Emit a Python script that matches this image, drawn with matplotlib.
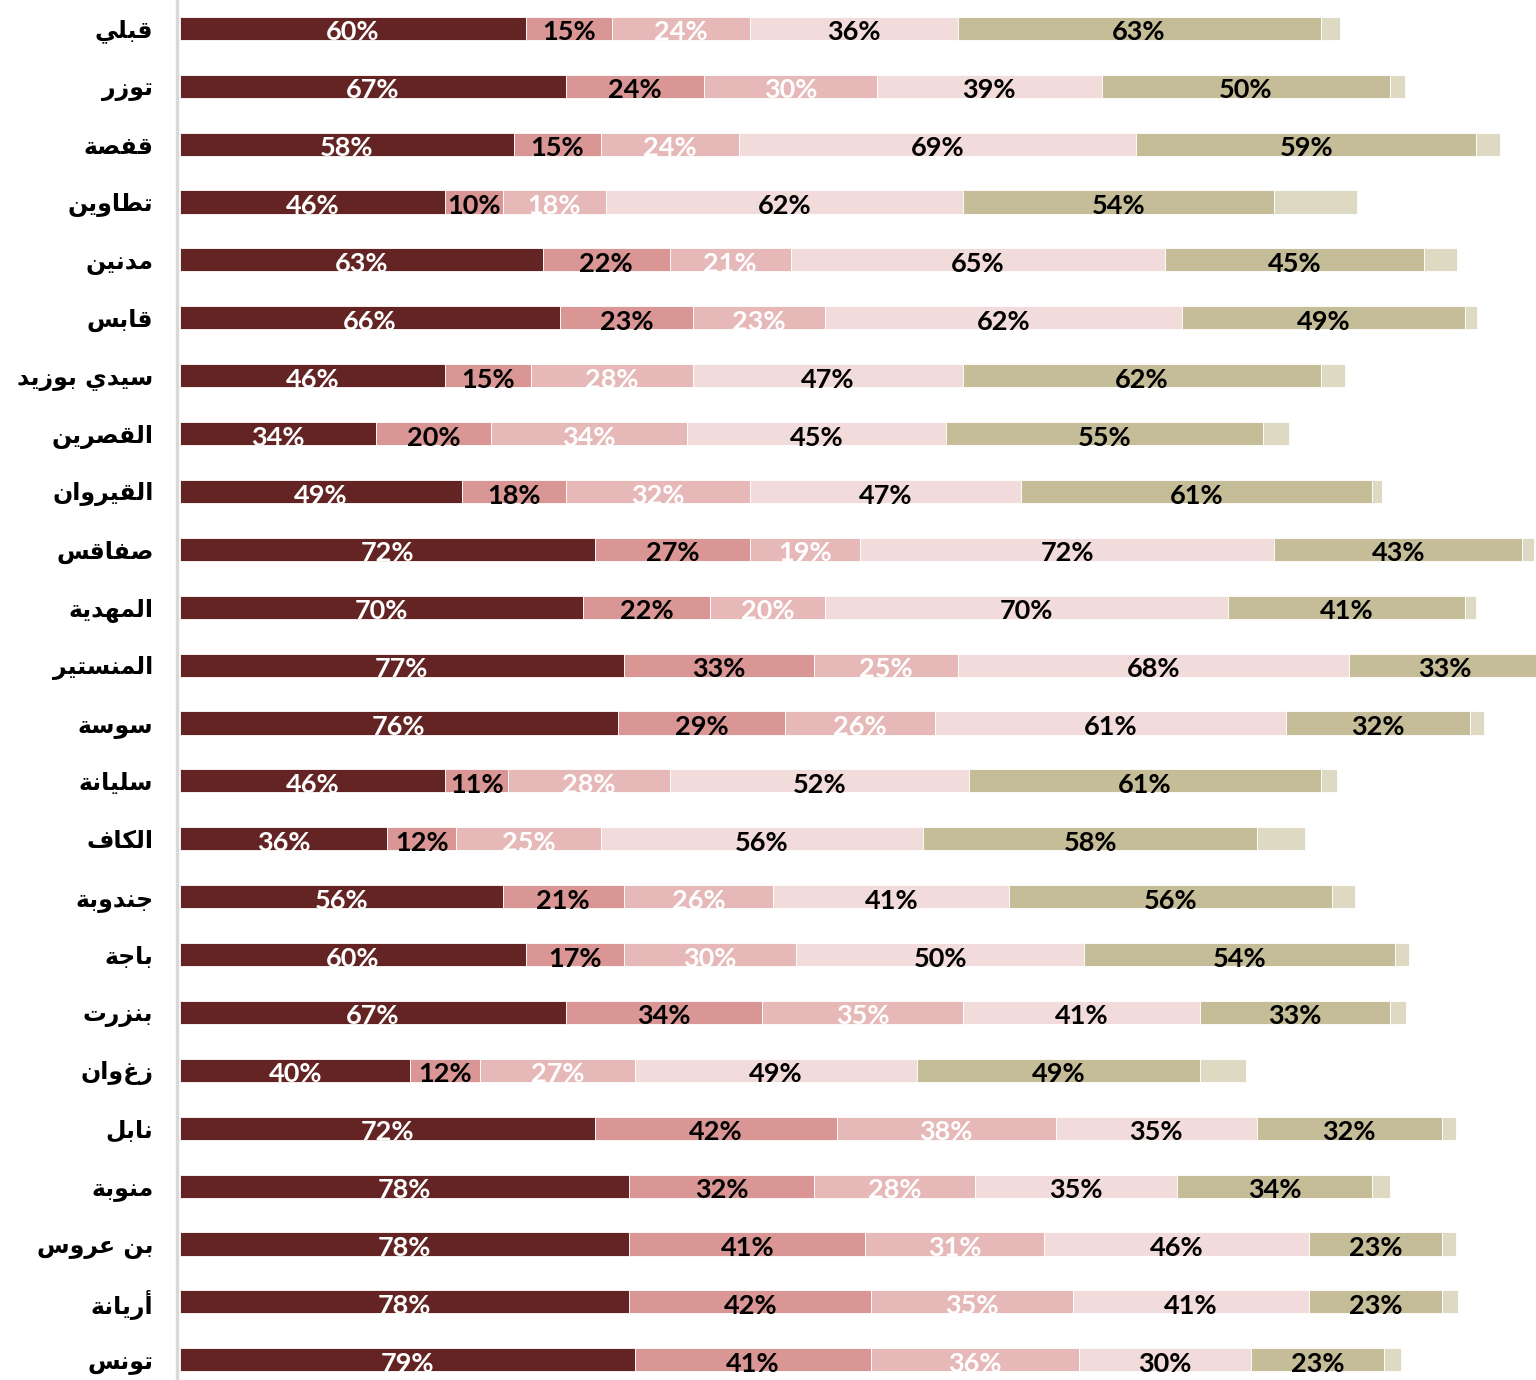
import matplotlib
matplotlib.use("Agg")
import matplotlib.pyplot as plt

# governorates, top to bottom
regions = ["قبلي", "توزر", "قفصة", "تطاوين", "مدنين", "قابس", "سيدي بوزيد", "القصرين",
           "القيروان", "صفاقس", "المهدية", "المنستير", "سوسة", "سليانة", "الكاف", "جندوبة",
           "باجة", "بنزرت", "زغوان", "نابل", "منوبة", "بن عروس", "أريانة", "تونس"]

seg1 = [60, 67, 58, 46, 63, 66, 46, 34, 49, 72, 70, 77, 76, 46, 36, 56, 60, 67, 40, 72, 78, 78, 78, 79]
seg2 = [15, 24, 15, 10, 22, 23, 15, 20, 18, 27, 22, 33, 29, 11, 12, 21, 17, 34, 12, 42, 32, 41, 42, 41]
seg3 = [24, 30, 24, 18, 21, 23, 28, 34, 32, 19, 20, 25, 26, 28, 25, 26, 30, 35, 27, 38, 28, 31, 35, 36]
seg4 = [36, 39, 69, 62, 65, 62, 47, 45, 47, 72, 70, 68, 61, 52, 56, 41, 50, 41, 49, 35, 35, 46, 41, 30]
seg5 = [63, 50, 59, 54, 45, 49, 62, 55, 61, 43, 41, 33, 32, 61, 58, 56, 54, 33, 49, 32, 34, 23, 23, 23]
# unlabeled remainder (estimated)
seg6 = [3.3, 2.6, 4.2, 14.4, 5.7, 2.1, 4.2, 4.5, 1.6, 2.0, 1.9, 1.0, 2.3, 2.8, 8.3, 4.0,
        2.3, 2.8, 8.0, 2.5, 3.0, 2.5, 2.8, 3.0]

colors = ["#632423", "#d99694", "#e6b9b8", "#f2dcdb", "#c4bd97", "#ddd9c3"]
label_colors = ["white", "black", "white", "black", "black", None]

# simple Arabic shaping: (isolated, final, initial, medial)
FORMS = {
    "ا": ("\uFE8D", "\uFE8E", None, None),
    "أ": ("\uFE83", "\uFE84", None, None),
    "ب": ("\uFE8F", "\uFE90", "\uFE91", "\uFE92"),
    "ة": ("\uFE93", "\uFE94", None, None),
    "ت": ("\uFE95", "\uFE96", "\uFE97", "\uFE98"),
    "ج": ("\uFE9D", "\uFE9E", "\uFE9F", "\uFEA0"),
    "د": ("\uFEA9", "\uFEAA", None, None),
    "ر": ("\uFEAD", "\uFEAE", None, None),
    "ز": ("\uFEAF", "\uFEB0", None, None),
    "س": ("\uFEB1", "\uFEB2", "\uFEB3", "\uFEB4"),
    "ص": ("\uFEB9", "\uFEBA", "\uFEBB", "\uFEBC"),
    "ط": ("\uFEC1", "\uFEC2", "\uFEC3", "\uFEC4"),
    "ع": ("\uFEC9", "\uFECA", "\uFECB", "\uFECC"),
    "ف": ("\uFED1", "\uFED2", "\uFED3", "\uFED4"),
    "ق": ("\uFED5", "\uFED6", "\uFED7", "\uFED8"),
    "ك": ("\uFED9", "\uFEDA", "\uFEDB", "\uFEDC"),
    "ل": ("\uFEDD", "\uFEDE", "\uFEDF", "\uFEE0"),
    "م": ("\uFEE1", "\uFEE2", "\uFEE3", "\uFEE4"),
    "ن": ("\uFEE5", "\uFEE6", "\uFEE7", "\uFEE8"),
    "ه": ("\uFEE9", "\uFEEA", "\uFEEB", "\uFEEC"),
    "و": ("\uFEED", "\uFEEE", None, None),
    "ي": ("\uFEF1", "\uFEF2", "\uFEF3", "\uFEF4"),
}


def shape(word):
    out = []
    for i, ch in enumerate(word):
        if ch not in FORMS:
            out.append(ch)
            continue
        prev = word[i - 1] if i > 0 else ""
        nxt = word[i + 1] if i + 1 < len(word) else ""
        f = FORMS[ch]
        jp = prev in FORMS and FORMS[prev][2] is not None
        jn = f[2] is not None and nxt in FORMS
        if jp and jn:
            out.append(f[3])
        elif jp:
            out.append(f[1])
        elif jn:
            out.append(f[2])
        else:
            out.append(f[0])
    return "".join(reversed(out))


fig = plt.figure(figsize=(15.36, 13.8), dpi=100)
ax = fig.add_axes([177 / 1536, 0, 1 - 177 / 1536, 1])

n = len(regions)
ypos = list(range(n))
series = [seg1, seg2, seg3, seg4, seg5, seg6]
left = [0.0] * n
for k, vals in enumerate(series):
    ax.barh(ypos, vals, left=left, height=0.40, color=colors[k],
            edgecolor="white", linewidth=0.6)
    if label_colors[k] is not None:
        for i, v in enumerate(vals):
            ax.text(left[i] + v / 2, i + 0.07, f"{v}%", ha="center", va="center",
                    color=label_colors[k], fontsize=19.5, fontweight="bold",
                    family=["Lato", "DejaVu Sans"])
    left = [a + b for a, b in zip(left, vals)]

ax.set_xlim(-0.52, 235.4)
ax.set_ylim(23.35, -0.49)
ax.set_xticks([])
ax.set_yticks(ypos)
ax.set_yticklabels([shape(r) for r in regions], fontsize=17, fontweight="bold",
                   family=["DejaVu Sans"])
ax.tick_params(axis="y", length=0, pad=17)
for s in ["top", "right", "bottom"]:
    ax.spines[s].set_visible(False)
ax.spines["left"].set_color("#d9d9d9")
ax.spines["left"].set_linewidth(2.5)

fig.savefig("out.png", dpi=100, facecolor="white")
